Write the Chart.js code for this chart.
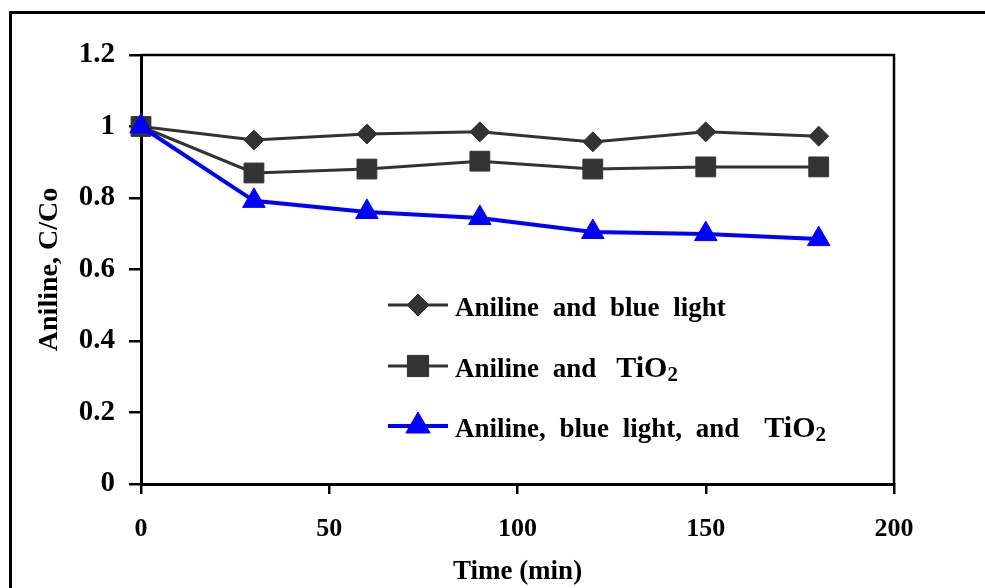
<!DOCTYPE html>
<html>
<head>
  <meta charset="UTF-8">
  <title>Aniline C/Co vs time</title>
  <script src="https://cdn.jsdelivr.net/npm/chart.js"></script>
  <style>
    body { margin: 0; background: #fff; }
    #wrap { position: relative; width: 985px; height: 588px; overflow: hidden; background: #fff; }
    #frame { position: absolute; left: 9px; top: 11px; width: 1200px; height: 800px;
             border-left: 3px solid #000; border-top: 3px solid #000; }
    canvas { position: absolute; left: 0; top: 0; }
  </style>
</head>
<body>
  <div id="wrap">
    <div id="frame"></div>
    <canvas id="chart" width="985" height="588"></canvas>
  </div>

  <script>
    // data
    const times = [0, 30, 60, 90, 120, 150, 180];
    const blueLight = [1.0, 0.962, 0.979, 0.985, 0.957, 0.985, 0.973];
    const tio2 = [1.0, 0.870, 0.881, 0.903, 0.881, 0.887, 0.887];
    const blueLightTio2 = [1.0, 0.792, 0.761, 0.744, 0.705, 0.699, 0.685];

    const xTickLabels = ["0", "50", "100", "150", "200"];
    const yTickLabels = ["0", "0.2", "0.4", "0.6", "0.8", "1", "1.2"];

    // legend text pieces (TiO2 drawn bigger, with subscript)
    const legendItems = [
      [{ t: "Aniline and blue light" }],
      [{ t: "Aniline and" }, { gap: 20 }, { t: "TiO", big: true }, { t: "2", sub: true }],
      [{ t: "Aniline, blue light, and" }, { gap: 25 }, { t: "TiO", big: true }, { t: "2", sub: true }]
    ];

    const pts = arr => times.map((t, i) => ({ x: t, y: arr[i] }));
    const serif = "'Liberation Serif', 'Times New Roman', serif";

    const frameBox = {
      id: "frameBox",
      beforeDatasetsDraw(chart) {
        const { ctx, chartArea: a } = chart;
        ctx.save();
        ctx.strokeStyle = "#000";
        ctx.lineWidth = 2.5;
        ctx.beginPath();
        ctx.moveTo(a.left, a.top);
        ctx.lineTo(a.right, a.top);
        ctx.lineTo(a.right, a.bottom);
        ctx.stroke();
        ctx.restore();
      }
    };

    const insideLegend = {
      id: "insideLegend",
      afterDatasetsDraw(chart) {
        const ctx = chart.ctx;
        const rowsY = [305, 366, 426];
        const x0 = 388, x1 = 448, tx = 455;
        chart.data.datasets.forEach((ds, i) => {
          const y = rowsY[i];
          ctx.save();
          ctx.strokeStyle = ds.borderColor;
          ctx.lineWidth = ds.borderWidth;
          ctx.beginPath();
          ctx.moveTo(x0, y);
          ctx.lineTo(x1, y);
          ctx.stroke();
          ctx.fillStyle = ds.pointBackgroundColor;
          ctx.strokeStyle = ds.pointBackgroundColor;
          ctx.lineWidth = 1;
          Chart.helpers.drawPoint(ctx, { pointStyle: ds.pointStyle, radius: ds.pointRadius + 1, borderWidth: 1 }, (x0 + x1) / 2, y);

          ctx.fillStyle = "#000";
          ctx.textBaseline = "alphabetic";
          ctx.textAlign = "left";
          let x = tx;
          const base = y + 11;
          for (const seg of legendItems[i]) {
            if (seg.gap) { x += seg.gap; continue; }
            let size = 27, dy = 0;
            if (seg.big) size = 30;
            if (seg.sub) { size = 21; dy = 4; }
            ctx.font = "bold " + size + "px " + serif;
            if ("wordSpacing" in ctx) ctx.wordSpacing = "7px";
            ctx.fillText(seg.t, x, base + dy);
            x += ctx.measureText(seg.t).width;
          }
          ctx.restore();
        });
      }
    };

    new Chart(document.getElementById("chart"), {
      type: "line",
      data: {
        datasets: [
          {
            label: "Aniline and blue light",
            data: pts(blueLight),
            borderColor: "#333333",
            borderWidth: 3,
            pointStyle: "rectRot",
            pointRadius: 10,
            pointBackgroundColor: "#333333",
            pointBorderColor: "#333333",
            pointBorderWidth: 1,
            order: 2,
            clip: false
          },
          {
            label: "Aniline and TiO2",
            data: pts(tio2),
            borderColor: "#333333",
            borderWidth: 3,
            pointStyle: "rect",
            pointRadius: 14,
            pointBackgroundColor: "#333333",
            pointBorderColor: "#333333",
            pointBorderWidth: 1,
            order: 1,
            clip: false
          },
          {
            label: "Aniline, blue light, and TiO2",
            data: pts(blueLightTio2),
            borderColor: "#0000ff",
            borderWidth: 4,
            pointStyle: "triangle",
            pointRadius: 13,
            pointBackgroundColor: "#0000ff",
            pointBorderColor: "#0000ff",
            pointBorderWidth: 1,
            order: 0,
            clip: false
          }
        ]
      },
      options: {
        responsive: false,
        animation: false,
        layout: { padding: { left: 0, top: 55, right: 91, bottom: 0 } },
        plugins: { legend: { display: false }, tooltip: { enabled: false } },
        elements: { line: { tension: 0 } },
        scales: {
          x: {
            type: "linear",
            min: 0,
            max: 200,
            afterFit(s) { s.height = 104; },
            afterBuildTicks(s) { s.ticks = xTickLabels.map(v => ({ value: Number(v) })); },
            ticks: {
              color: "#000",
              font: { family: serif, size: 26, weight: "bold" },
              padding: 20,
              maxRotation: 0,
              callback: (v, i) => xTickLabels[i]
            },
            grid: { drawOnChartArea: false, color: "#000", lineWidth: 2.5, tickLength: 10 },
            border: { color: "#000", width: 3 },
            title: {
              display: true,
              text: "Time (min)",
              color: "#000",
              font: { family: serif, size: 27, weight: "bold" },
              padding: { top: 0, bottom: 0 }
            }
          },
          y: {
            min: 0,
            max: 1.2,
            afterFit(s) { s.width = 141; },
            afterBuildTicks(s) { s.ticks = yTickLabels.map(v => ({ value: Number(v) })); },
            ticks: {
              color: "#000",
              font: { family: serif, size: 29, weight: "bold" },
              padding: 14,
              callback: (v, i) => yTickLabels[i]
            },
            grid: { drawOnChartArea: false, color: "#000", lineWidth: 2.5, tickLength: 12 },
            border: { color: "#000", width: 3 },
            title: {
              display: true,
              text: "Aniline, C/Co",
              color: "#000",
              font: { family: serif, size: 28, weight: "bold" },
              padding: { top: 33, bottom: 0 }
            }
          }
        }
      },
      plugins: [frameBox, insideLegend]
    });
  </script>
</body>
</html>
